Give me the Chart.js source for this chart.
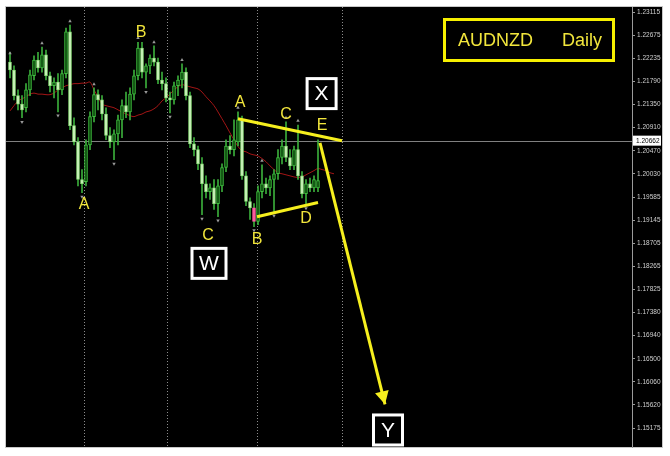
<!DOCTYPE html>
<html>
<head>
<meta charset="utf-8">
<script src="https://cdn.jsdelivr.net/npm/chart.js@4.4.1/dist/chart.umd.min.js"></script>
<style>
  html, body { margin: 0; padding: 0; background: #ffffff; }
  #wrap { width: 670px; height: 456px; position: relative; }
</style>
</head>
<body>
<div id="wrap"><canvas id="chart" width="670" height="456"></canvas></div>
<script>
/* ================= DATA ================= */
const opens = [
  1.2216, 1.2201, 1.2152, 1.2136, 1.2129, 1.2163, 1.2190, 1.2220, 1.2205, 1.2230,
  1.2190, 1.2171, 1.2178, 1.2163, 1.2194, 1.2274, 1.2095, 1.2064, 1.1992, 1.1988,
  1.2058, 1.2112, 1.2154, 1.2144, 1.2117, 1.2076, 1.2064, 1.2079, 1.2106, 1.2133,
  1.2121, 1.2155, 1.2190, 1.2243, 1.2197, 1.2209, 1.2224, 1.2216, 1.2182, 1.2175,
  1.2148, 1.2144, 1.2171, 1.2182, 1.2197, 1.2152, 1.2060, 1.2049, 1.2022, 1.1984,
  1.1969, 1.1976, 1.1946, 1.1980, 1.2015, 1.2056, 1.2049, 1.2064, 1.2106, 1.1999,
  1.1950, 1.1938, 1.1912, 1.1969, 1.1984, 1.1976, 1.1992, 1.2003, 1.2034, 1.2056,
  1.2034, 1.2018, 1.2049, 1.1999, 1.1965, 1.1984, 1.1976, 1.1976
];
const highs = [
  1.2235, 1.2209, 1.2163, 1.2152, 1.2175, 1.2201, 1.2228, 1.2235, 1.2245, 1.2239,
  1.2197, 1.2186, 1.2194, 1.2201, 1.2281, 1.2287, 1.2110, 1.2072, 1.2011, 1.2068,
  1.2121, 1.2167, 1.2163, 1.2152, 1.2129, 1.2091, 1.2087, 1.2115, 1.2144, 1.2159,
  1.2167, 1.2201, 1.2254, 1.2254, 1.2213, 1.2230, 1.2247, 1.2224, 1.2197, 1.2186,
  1.2159, 1.2178, 1.2190, 1.2213, 1.2205, 1.2159, 1.2072, 1.2056, 1.2034, 1.1999,
  1.1984, 1.1992, 1.1992, 1.2022, 1.2068, 1.2076, 1.2106, 1.2121, 1.2113, 1.2007,
  1.1957, 1.1946, 1.1980, 1.2020, 1.1995, 1.1999, 1.2011, 1.2049, 1.2068, 1.2102,
  1.2049, 1.2056, 1.2096, 1.2007, 1.1992, 1.1995, 1.1999, 1.2068
];
const lows = [
  1.2186, 1.2144, 1.2125, 1.2110, 1.2121, 1.2152, 1.2182, 1.2197, 1.2197, 1.2182,
  1.2159, 1.2148, 1.2121, 1.2154, 1.2186, 1.2087, 1.2058, 1.1980, 1.1967, 1.1980,
  1.2049, 1.2102, 1.2125, 1.2106, 1.2068, 1.2053, 1.2030, 1.2058, 1.2072, 1.2110,
  1.2106, 1.2144, 1.2182, 1.2186, 1.2167, 1.2194, 1.2209, 1.2175, 1.2163, 1.2140,
  1.2119, 1.2136, 1.2152, 1.2167, 1.2144, 1.2053, 1.2037, 1.2011, 1.1925, 1.1957,
  1.1954, 1.1935, 1.1921, 1.1969, 1.2007, 1.2041, 1.2037, 1.2056, 1.1992, 1.1942,
  1.1916, 1.1902, 1.1906, 1.1957, 1.1965, 1.1961, 1.1931, 1.1992, 1.2022, 1.2026,
  1.2011, 1.2011, 1.1992, 1.1957, 1.1944, 1.1969, 1.1969, 1.1969
];
const closes = [
  1.2201, 1.2152, 1.2136, 1.2125, 1.2163, 1.2192, 1.2220, 1.2205, 1.2230, 1.2190,
  1.2171, 1.2178, 1.2163, 1.2194, 1.2274, 1.2095, 1.2064, 1.1992, 1.1984, 1.2058,
  1.2112, 1.2154, 1.2144, 1.2117, 1.2076, 1.2064, 1.2079, 1.2106, 1.2133, 1.2121,
  1.2155, 1.2190, 1.2243, 1.2197, 1.2209, 1.2224, 1.2216, 1.2182, 1.2175, 1.2148,
  1.2144, 1.2171, 1.2182, 1.2197, 1.2152, 1.2060, 1.2049, 1.2022, 1.1984, 1.1969,
  1.1976, 1.1946, 1.1980, 1.2015, 1.2056, 1.2049, 1.2068, 1.2106, 1.1999, 1.1950,
  1.1938, 1.1912, 1.1969, 1.1984, 1.1976, 1.1992, 1.2003, 1.2034, 1.2056, 1.2034,
  1.2018, 1.2049, 1.1999, 1.1965, 1.1984, 1.1976, 1.1992, 1.1990
];
const maValues = [
  1.2123, 1.2133, 1.2142, 1.2146, 1.2150, 1.2155, 1.2157, 1.2155, 1.2155, 1.2154,
  1.2154, 1.2157, 1.2163, 1.2167, 1.2171, 1.2173, 1.2175, 1.2175, 1.2176, 1.2176,
  1.2178, 1.2163, 1.2150, 1.2136, 1.2133, 1.2131, 1.2129, 1.2125, 1.2121, 1.2117,
  1.2114, 1.2112, 1.2115, 1.2117, 1.2121, 1.2123, 1.2127, 1.2133, 1.2142, 1.2148,
  1.2155, 1.2163, 1.2169, 1.2173, 1.2171, 1.2169, 1.2167, 1.2165, 1.2159, 1.2150,
  1.2142, 1.2133, 1.2121, 1.2108, 1.2095, 1.2081, 1.2068, 1.2055, 1.2047, 1.2045,
  1.2041, 1.2039, 1.2037, 1.2032, 1.2026, 1.2018, 1.2011, 1.2005, 1.2003, 1.2001,
  1.1999, 1.1997, 1.1996, 1.1997, 1.2001, 1.2005, 1.2009, 1.2013, 1.2011, 1.2009,
  1.2005, 1.2003
];
const highlightIdx = 61;

const fractalUpIdx = [0, 8, 15, 21, 32, 36, 43, 57, 63, 69, 72];
const fractalUpPrice = [1.2233, 1.2252, 1.2294, 1.2174, 1.2262, 1.2254, 1.2220, 1.2129, 1.2028, 1.2110, 1.2104];
const fractalDownIdx = [3, 12, 18, 26, 34, 40, 48, 52, 61, 66, 74];
const fractalDownPrice = [1.2102, 1.2114, 1.1959, 1.2022, 1.2159, 1.2112, 1.1917, 1.1914, 1.1895, 1.1923, 1.1937];

const yTickValues = [
  1.23115, 1.22675, 1.22235, 1.21790, 1.21350, 1.20910, 1.20470, 1.20030, 1.19585, 1.19145,
  1.18705, 1.18265, 1.17825, 1.17380, 1.16940, 1.16500, 1.16060, 1.15620, 1.15175
];
const monthBreaks = [18.5, 39.25, 61.75, 83];
const bidPrice = 1.20662;

// wave lines: A -> E, B -> D, E -> Y arrow
const lineAEIdx = [57, 83];
const lineAEPrice = [1.2108, 1.2066];
const lineBDIdx = [61.75, 77];
const lineBDPrice = [1.1921, 1.1948];
const arrowIdx = [77.5, 93.75];
const arrowPrice = [1.2062, 1.1563];

const waveLabels = ["A", "B", "C", "A", "B", "C", "D", "E"];
const waveLabelIdx = [18.5, 32.75, 49.5, 57.5, 61.75, 69, 74, 78];
const waveLabelPrice = [1.1944, 1.2273, 1.1885, 1.2138, 1.1877, 1.2115, 1.1917, 1.2094];

const boxLabels = ["X", "W", "Y"];
const boxIdx = [77.9, 49.75, 94.5];
const boxPrice = [1.2156, 1.1832, 1.1514];

const chartTitle = ["AUDNZD", "Daily"];

/* ================= DATASETS ================= */
const candleIdx = opens.map((_, i) => i);
const wickData = candleIdx.map(i => ({ x: i, y: [lows[i], highs[i]] }));
const bodyData = candleIdx.map(i => ({
  x: i,
  y: [Math.min(opens[i], closes[i]), Math.max(opens[i], closes[i])]
}));
const bodyFill = candleIdx.map(i =>
  i === highlightIdx ? "#ff5aa0" : (closes[i] >= opens[i] ? "#0d4a0d" : "#d2f7c2"));
const bodyBorder = candleIdx.map(i =>
  i === highlightIdx ? "#ff5aa0" : (closes[i] >= opens[i] ? "#3fbf3f" : "#8fe07c"));

const toPoints = (xs, ys) => xs.map((x, i) => ({ x: x, y: ys[i] }));

const YELLOW_LINE = "#f6ef1e";
const YELLOW_TEXT = "#f2e63c";
const FONT = "'Liberation Sans', Arial, sans-serif";

/* ================= OVERLAY PLUGIN ================= */
const overlayPlugin = {
  id: "overlay",
  beforeDraw(chart) {
    const ctx = chart.ctx;
    ctx.save();
    ctx.fillStyle = "#000000";
    ctx.fillRect(6, 7, 656, 440);
    ctx.strokeStyle = "#c8c8c8";
    ctx.lineWidth = 1;
    ctx.strokeRect(5.5, 6.5, 657, 441);
    ctx.restore();
  },
  beforeDatasetsDraw(chart) {
    const { ctx, chartArea, scales } = chart;
    ctx.save();
    // period separators
    ctx.strokeStyle = "#8c8c8c";
    ctx.lineWidth = 1;
    ctx.setLineDash([1, 2]);
    monthBreaks.forEach(v => {
      const x = Math.round(scales.x.getPixelForValue(v)) + 0.5;
      ctx.beginPath();
      ctx.moveTo(x, chartArea.top);
      ctx.lineTo(x, chartArea.bottom);
      ctx.stroke();
    });
    // bid line
    ctx.setLineDash([]);
    ctx.strokeStyle = "#808080";
    const by = Math.round(scales.y.getPixelForValue(bidPrice)) + 0.5;
    ctx.beginPath();
    ctx.moveTo(chartArea.left, by);
    ctx.lineTo(chartArea.right, by);
    ctx.stroke();
    ctx.restore();
  },
  afterDatasetsDraw(chart) {
    const { ctx, chartArea, scales } = chart;
    ctx.save();

    // arrow head at end of E -> Y line
    const meta = chart.getDatasetMeta(5);
    const p0 = meta.data[0], p1 = meta.data[1];
    const ang = Math.atan2(p1.y - p0.y, p1.x - p0.x);
    const len = 13, half = 7;
    ctx.fillStyle = YELLOW_LINE;
    ctx.beginPath();
    ctx.moveTo(p1.x, p1.y);
    ctx.lineTo(p1.x - len * Math.cos(ang) + half * Math.sin(ang), p1.y - len * Math.sin(ang) - half * Math.cos(ang));
    ctx.lineTo(p1.x - len * Math.cos(ang) - half * Math.sin(ang), p1.y - len * Math.sin(ang) + half * Math.cos(ang));
    ctx.closePath();
    ctx.fill();

    // wave letters
    ctx.fillStyle = YELLOW_TEXT;
    ctx.font = "16px " + FONT;
    ctx.textAlign = "center";
    ctx.textBaseline = "middle";
    waveLabels.forEach((t, i) => {
      ctx.fillText(t, scales.x.getPixelForValue(waveLabelIdx[i]), scales.y.getPixelForValue(waveLabelPrice[i]));
    });

    // boxed letters
    boxLabels.forEach((t, i) => {
      const cx = scales.x.getPixelForValue(boxIdx[i]);
      const cy = scales.y.getPixelForValue(boxPrice[i]);
      const w = t === "W" ? 34 : 29, h = 30;
      ctx.fillStyle = "#000000";
      ctx.fillRect(cx - w / 2, cy - h / 2, w, h);
      ctx.strokeStyle = "#ffffff";
      ctx.lineWidth = 3;
      ctx.strokeRect(cx - w / 2, cy - h / 2, w, h);
      ctx.fillStyle = "#ffffff";
      ctx.font = "21px " + FONT;
      ctx.fillText(t, cx, cy + 1);
    });

    // title box
    ctx.strokeStyle = "#f6ef00";
    ctx.lineWidth = 3;
    ctx.strokeRect(444.5, 19.5, 169, 41);
    ctx.fillStyle = YELLOW_TEXT;
    ctx.font = "18px " + FONT;
    ctx.textAlign = "left";
    ctx.fillText(chartTitle[0], 458, 41);
    ctx.textAlign = "right";
    ctx.fillText(chartTitle[1], 602, 41);

    // bid price tag on axis
    const by = scales.y.getPixelForValue(bidPrice);
    ctx.fillStyle = "#ffffff";
    ctx.fillRect(chartArea.right + 1, by - 5, 28, 10);
    ctx.fillStyle = "#000000";
    ctx.font = "6.5px " + FONT;
    ctx.textAlign = "left";
    ctx.fillText(bidPrice.toFixed(5), chartArea.right + 4, by + 0.5);

    ctx.restore();
  }
};

/* ================= CHART ================= */
new Chart(document.getElementById("chart").getContext("2d"), {
  type: "bar",
  data: {
    datasets: [
      {
        type: "line",
        data: maValues.map((v, i) => ({ x: i, y: v })),
        borderColor: "#a31515",
        borderWidth: 1,
        pointRadius: 0,
        tension: 0.35,
        order: 5
      },
      {
        data: wickData,
        backgroundColor: "#3aad3a",
        barThickness: 1,
        grouped: false,
        order: 4
      },
      {
        data: bodyData,
        backgroundColor: bodyFill,
        borderColor: bodyBorder,
        borderWidth: 1,
        borderSkipped: false,
        barThickness: 3,
        grouped: false,
        order: 3
      },
      {
        type: "line",
        data: toPoints(lineAEIdx, lineAEPrice),
        borderColor: YELLOW_LINE,
        borderWidth: 3,
        pointRadius: 0,
        order: 1
      },
      {
        type: "line",
        data: toPoints(lineBDIdx, lineBDPrice),
        borderColor: YELLOW_LINE,
        borderWidth: 3,
        pointRadius: 0,
        order: 1
      },
      {
        type: "line",
        data: toPoints(arrowIdx, arrowPrice),
        borderColor: YELLOW_LINE,
        borderWidth: 3,
        pointRadius: 0,
        order: 1
      },
      {
        type: "line",
        showLine: false,
        data: toPoints(fractalUpIdx, fractalUpPrice),
        pointStyle: "triangle",
        pointRadius: 2,
        backgroundColor: "#9a9a9a",
        borderColor: "#9a9a9a",
        borderWidth: 0,
        order: 2
      },
      {
        type: "line",
        showLine: false,
        data: toPoints(fractalDownIdx, fractalDownPrice),
        pointStyle: "triangle",
        rotation: 180,
        pointRadius: 2,
        backgroundColor: "#9a9a9a",
        borderColor: "#9a9a9a",
        borderWidth: 0,
        order: 2
      }
    ]
  },
  options: {
    responsive: false,
    animation: false,
    layout: {
      padding: { left: 6, top: 7, right: 8, bottom: 9 }
    },
    plugins: {
      legend: { display: false },
      tooltip: { enabled: false }
    },
    scales: {
      x: {
        type: "linear",
        min: -1,
        max: 155.5,
        offset: false,
        display: false
      },
      y: {
        position: "right",
        min: 1.14815,
        max: 1.23213,
        afterFit(scale) {
          scale.width = 30;
        },
        afterBuildTicks(scale) {
          scale.ticks = yTickValues.map(v => ({ value: v }));
        },
        border: { display: true, color: "#9a9a9a", width: 1 },
        grid: {
          drawOnChartArea: false,
          drawTicks: true,
          tickLength: 3,
          color: "#9a9a9a"
        },
        ticks: {
          color: "#cfcfcf",
          padding: 2,
          font: { family: "'Liberation Sans', Arial, sans-serif", size: 6.5 },
          callback: v => Number(v).toFixed(5)
        }
      }
    }
  },
  plugins: [overlayPlugin]
});
</script>
</body>
</html>
